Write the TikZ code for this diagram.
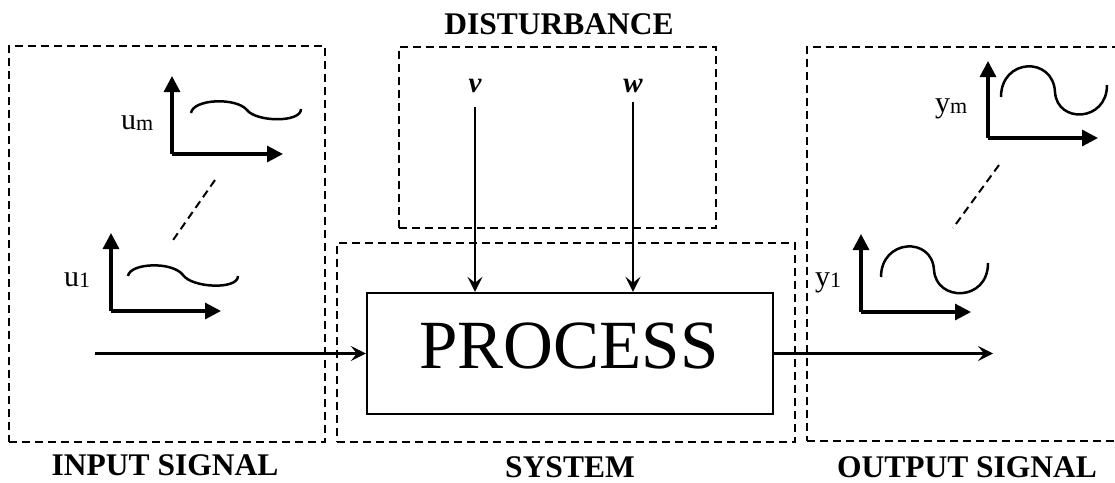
\documentclass[tikz,border=0pt]{standalone}
\usepackage{fontspec}
\setmainfont{Liberation Serif}
\usetikzlibrary{arrows.meta}

\tikzset{
  groupbox/.style={draw, dashed, dash pattern=on 8pt off 5pt, line width=2pt,
    rectangle, inner sep=0pt},
  procbox/.style={draw, rectangle, line width=2.4pt, inner sep=0pt,
    minimum width=406pt, minimum height=121pt},
  flow/.style={line width=2.1pt, -{Stealth[length=15pt,width=15pt,inset=6pt]}},
  axis/.style={line width=3.2pt, -{Triangle[length=16pt,width=16pt]}},
  signal/.style={line width=2.5pt},
  between/.style={dashed, dash pattern=on 8pt off 5pt, line width=2pt},
  heading/.style={inner sep=0pt, font=\fontsize{31.5}{36}\selectfont\bfseries},
  sig/.style={inner sep=0pt, anchor=base west, font=\fontsize{30}{30}\selectfont},
  dist/.style={inner sep=0pt, anchor=base, font=\fontsize{29}{30}\selectfont\bfseries\itshape}
}
\newcommand{\sublow}[1]{\raisebox{-1.5pt}{\fontsize{22}{22}\selectfont #1}}

\begin{document}
\begin{tikzpicture}[x=1pt,y=-1pt]
  \useasboundingbox (0,0) rectangle (1115,482);
  \clip (0,0) rectangle (1115,482);

  % group frames
  \node[groupbox, minimum width=316pt, minimum height=396pt] (inbox) at (167,244) {};
  \node[groupbox, minimum width=317pt, minimum height=181pt] (distbox) at (557.5,137.5) {};
  \node[groupbox, minimum width=458pt, minimum height=199pt] (sysbox) at (566,342.5) {};
  \node[groupbox, minimum width=330pt, minimum height=394pt] (outbox) at (972,244) {};

  % process block
  \node[procbox] (proc) at (570,353.5) {};
  \node[inner sep=0pt, anchor=base, font=\fontsize{69}{72}\selectfont] (proctext) at (569,368) {PROCESS};

  % headings
  \node[heading, anchor=base] (hdist) at (559,34) {DISTURBANCE};
  \node[heading, anchor=base] (hin) at (165,475) {INPUT SIGNAL};
  \node[heading, anchor=base] (hsys) at (570,477) {SYSTEM};
  \node[heading, anchor=base] (hout) at (967,477) {OUTPUT SIGNAL};

  % disturbances
  \node[dist] (v) at (475,92) {v};
  \node[dist] (w) at (633,92) {w};
  \coordinate (vtop) at (475,107);
  \coordinate (wtop) at (633,102);
  \draw[flow] (vtop) -- (vtop |- proc.north);
  \draw[flow] (wtop) -- (wtop |- proc.north);

  % main signal flow
  \coordinate (instart) at (95,353.5);
  \coordinate (outend) at (993,353.5);
  \draw[flow] (instart) -- (proc.west);
  \draw[flow] (proc.east) -- (outend);

  % input signals
  \coordinate (um0) at (172,154);
  \draw[axis] (um0) -- ++(0,-78);
  \draw[axis] (um0) -- ++(111,0);
  \node[sig] (umlab) at (121,129) {u\sublow{m}};
  \draw[signal] (191,113) .. controls (193,99) and (236,97) .. (247,110)
                .. controls (256,122) and (301,123) .. (301,109);

  \coordinate (u10) at (111,311);
  \draw[axis] (u10) -- ++(0,-78);
  \draw[axis] (u10) -- ++(110,0);
  \node[sig] (u1lab) at (64,286) {u\sublow{1}};
  \draw[signal] (128,276) .. controls (130,263) and (172,261) .. (183,275)
                .. controls (192,288) and (238,290) .. (238,276);

  \coordinate (ua) at (215,180);
  \coordinate (ub) at (171,243);
  \draw[between] (ua) -- (ub);

  % output signals
  \coordinate (ym0) at (988,138);
  \draw[axis] (ym0) -- ++(0,-77);
  \draw[axis] (ym0) -- ++(110,0);
  \node[sig] (ymlab) at (935,112) {y\sublow{m}};
  \draw[signal] (1001,97) .. controls (1001,58) and (1053,56) .. (1055,92)
                .. controls (1057,124) and (1107,122) .. (1107,85);

  \coordinate (y10) at (861,312);
  \draw[axis] (y10) -- ++(0,-78);
  \draw[axis] (y10) -- ++(110,0);
  \node[sig] (y1lab) at (815,286) {y\sublow{1}};
  \draw[signal] (881,277) .. controls (881,239) and (932,236) .. (934,270)
                .. controls (936,302) and (988,302) .. (988,263);

  \coordinate (ya) at (999,165);
  \coordinate (yb) at (953,228);
  \draw[between] (ya) -- (yb);
\end{tikzpicture}
\end{document}
